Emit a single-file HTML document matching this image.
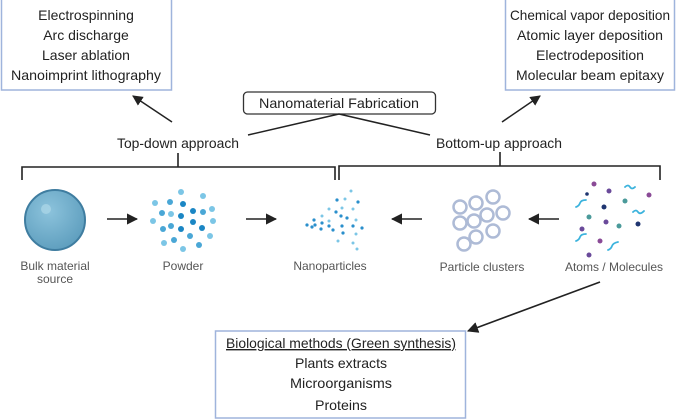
<!DOCTYPE html>
<html><head><meta charset="utf-8"><style>
html,body{margin:0;padding:0;background:#fff;}
svg{display:block;}
text{font-family:"Liberation Sans",sans-serif;}
</style></head><body>
<svg width="676" height="420" viewBox="0 0 676 420" xmlns="http://www.w3.org/2000/svg">
<defs>
<marker id="ah" viewBox="0 0 10 10" refX="9" refY="5" markerWidth="7" markerHeight="7" orient="auto-start-reverse"><path d="M0,0 L10,5 L0,10 z" fill="#222"/></marker>
<radialGradient id="sph" cx="0.4" cy="0.35" r="0.7"><stop offset="0" stop-color="#8cc3dc"/><stop offset="1" stop-color="#5d9dbd"/></radialGradient>
</defs>
<rect x="1.5" y="-1" width="170" height="91" fill="#fff" stroke="#9fb4dc" stroke-width="1.5"/>
<g font-size="14" fill="#222" text-anchor="middle">
<text x="86" y="20">Electrospinning</text>
<text x="86" y="40">Arc discharge</text>
<text x="86" y="60">Laser ablation</text>
<text x="86" y="80" textLength="150" lengthAdjust="spacingAndGlyphs">Nanoimprint lithography</text>
</g>
<rect x="505.5" y="-1" width="169" height="91" fill="#fff" stroke="#9fb4dc" stroke-width="1.5"/>
<g font-size="14" fill="#222" text-anchor="middle">
<text x="590" y="20" textLength="160" lengthAdjust="spacingAndGlyphs">Chemical vapor deposition</text>
<text x="590" y="40" textLength="146" lengthAdjust="spacingAndGlyphs">Atomic layer deposition</text>
<text x="590" y="60" textLength="108" lengthAdjust="spacingAndGlyphs">Electrodeposition</text>
<text x="590" y="80" textLength="148" lengthAdjust="spacingAndGlyphs">Molecular beam epitaxy</text>
</g>
<rect x="243.5" y="92" width="192" height="22" rx="4" fill="#fff" stroke="#333" stroke-width="1.3"/>
<text x="339" y="108" font-size="14" fill="#222" text-anchor="middle" textLength="160" lengthAdjust="spacingAndGlyphs">Nanomaterial Fabrication</text>
<line x1="339" y1="114" x2="248" y2="135" stroke="#222" stroke-width="1.5"/>
<line x1="339" y1="114" x2="430" y2="135" stroke="#222" stroke-width="1.5"/>
<text x="178" y="148" font-size="14" fill="#222" text-anchor="middle" textLength="122" lengthAdjust="spacingAndGlyphs">Top-down approach</text>
<text x="499" y="148" font-size="14" fill="#222" text-anchor="middle" textLength="126" lengthAdjust="spacingAndGlyphs">Bottom-up approach</text>
<line x1="172" y1="122" x2="133" y2="96" stroke="#222" stroke-width="1.5" marker-end="url(#ah)"/>
<line x1="502" y1="122" x2="540" y2="96" stroke="#222" stroke-width="1.5" marker-end="url(#ah)"/>
<path d="M22,180 V167 H335 V180 M178,153 V167" fill="none" stroke="#222" stroke-width="1.6"/>
<path d="M339,180 V166 H660 V180 M500,152 V166" fill="none" stroke="#222" stroke-width="1.6"/>
<circle cx="55" cy="220" r="30" fill="url(#sph)" stroke="#3f7da0" stroke-width="2"/>
<circle cx="46" cy="209" r="5" fill="#a9d5e6" opacity="0.8"/>
<g font-size="12" fill="#555" text-anchor="middle">
<text x="55" y="270">Bulk material</text>
<text x="55" y="283">source</text>
<text x="183" y="270">Powder</text>
<text x="330" y="270">Nanoparticles</text>
<text x="482" y="271">Particle clusters</text>
<text x="614" y="271">Atoms / Molecules</text>
</g>
<g stroke="#222" stroke-width="1.6" marker-end="url(#ah)">
<line x1="107" y1="219" x2="137" y2="219"/>
<line x1="246" y1="219" x2="276" y2="219"/>
<line x1="422" y1="219" x2="392" y2="219"/>
<line x1="559" y1="219" x2="529" y2="219"/>
<line x1="600" y1="282" x2="468" y2="331"/>
</g>
<g>
<circle cx="181" cy="192" r="3" fill="#7cc6e6"/><circle cx="203" cy="196" r="3" fill="#7cc6e6"/>
<circle cx="155" cy="203" r="3" fill="#7cc6e6"/><circle cx="170" cy="202" r="3" fill="#4aa7d6"/>
<circle cx="183" cy="204" r="3" fill="#1b86c4"/><circle cx="193" cy="211" r="3" fill="#1b86c4"/>
<circle cx="203" cy="212" r="3" fill="#4aa7d6"/><circle cx="212" cy="209" r="3" fill="#7cc6e6"/>
<circle cx="162" cy="213" r="3" fill="#4aa7d6"/><circle cx="171" cy="214" r="3" fill="#7cc6e6"/>
<circle cx="181" cy="216" r="3" fill="#1b86c4"/><circle cx="153" cy="221" r="3" fill="#7cc6e6"/>
<circle cx="193" cy="222" r="3" fill="#1b86c4"/><circle cx="202" cy="228" r="3" fill="#1b86c4"/>
<circle cx="213" cy="221" r="3" fill="#7cc6e6"/><circle cx="163" cy="229" r="3" fill="#4aa7d6"/>
<circle cx="171" cy="226" r="3" fill="#4aa7d6"/><circle cx="181" cy="229" r="3" fill="#1b86c4"/>
<circle cx="190" cy="236" r="3" fill="#4aa7d6"/><circle cx="210" cy="236" r="3" fill="#7cc6e6"/>
<circle cx="164" cy="243" r="3" fill="#7cc6e6"/><circle cx="174" cy="240" r="3" fill="#4aa7d6"/>
<circle cx="183" cy="249" r="3" fill="#7cc6e6"/><circle cx="199" cy="245" r="3" fill="#4aa7d6"/>
</g>
<g fill="#2a8fcc">
<circle cx="351" cy="191" r="1.5" fill="#7cc6e6"/><circle cx="337" cy="200" r="1.6"/><circle cx="345" cy="199" r="1.5" fill="#7cc6e6"/>
<circle cx="358" cy="202" r="1.6"/><circle cx="329" cy="209" r="1.5" fill="#7cc6e6"/><circle cx="342" cy="208" r="1.5" fill="#7cc6e6"/>
<circle cx="353" cy="209" r="1.5" fill="#7cc6e6"/><circle cx="322" cy="216" r="1.5" fill="#7cc6e6"/><circle cx="336" cy="212" r="1.6"/>
<circle cx="341" cy="216" r="1.6"/><circle cx="347" cy="218" r="1.6"/><circle cx="356" cy="220" r="1.5" fill="#7cc6e6"/>
<circle cx="314" cy="220" r="1.6"/><circle cx="329" cy="221" r="1.5" fill="#7cc6e6"/><circle cx="307" cy="225" r="1.6"/>
<circle cx="312" cy="227" r="1.6"/><circle cx="315" cy="225" r="1.6"/><circle cx="322" cy="223" r="1.6"/>
<circle cx="329" cy="226" r="1.6"/><circle cx="342" cy="226" r="1.6"/><circle cx="353" cy="226" r="1.6"/>
<circle cx="362" cy="228" r="1.6"/><circle cx="321" cy="229" r="1.6"/><circle cx="333" cy="230" r="1.6"/>
<circle cx="343" cy="233" r="1.6"/><circle cx="356" cy="234" r="1.5" fill="#7cc6e6"/><circle cx="338" cy="241" r="1.5" fill="#7cc6e6"/>
<circle cx="353" cy="243" r="1.5" fill="#7cc6e6"/><circle cx="357" cy="249" r="1.5" fill="#7cc6e6"/>
</g>
<g fill="none" stroke="#aebbd6" stroke-width="2.5">
<circle cx="460" cy="207" r="6.5"/><circle cx="476" cy="203" r="6.5"/><circle cx="493" cy="197" r="6.5"/>
<circle cx="503" cy="213" r="6.5"/><circle cx="487" cy="215" r="6.5"/><circle cx="474" cy="221" r="6.5"/>
<circle cx="460" cy="223" r="6.5"/><circle cx="493" cy="231" r="6.5"/><circle cx="476" cy="237" r="6.5"/>
<circle cx="464" cy="244" r="6.5"/>
</g>
<g>
<circle cx="594" cy="184" r="2.5" fill="#8a4a96"/><circle cx="609" cy="191" r="2.5" fill="#6a4a9a"/>
<circle cx="587" cy="194" r="1.8" fill="#1f3570"/><circle cx="649" cy="195" r="2.5" fill="#8a4a96"/>
<circle cx="625" cy="201" r="2.5" fill="#4a9a9a"/><circle cx="604" cy="207" r="2.5" fill="#1f3570"/>
<circle cx="589" cy="217" r="2.5" fill="#4a9a9a"/><circle cx="606" cy="222" r="2.5" fill="#6a4a9a"/>
<circle cx="619" cy="226" r="2.5" fill="#4a9a9a"/><circle cx="638" cy="224" r="2.5" fill="#1f3570"/>
<circle cx="582" cy="229" r="2.5" fill="#6a4a9a"/><circle cx="600" cy="241" r="2.5" fill="#8a4a96"/>
<circle cx="589" cy="255" r="2.5" fill="#6a4a9a"/>
</g>
<g fill="none" stroke="#3cb3dd" stroke-width="1.8" stroke-linecap="round">
<path d="M625,187 q3,-3 5,0 t5,0"/>
<path d="M576,207 q3,-1 4,-4 t6,-3"/>
<path d="M633,212 q3,-3 5,0 t6,-1"/>
<path d="M576,241 q3,-1 4,-4 t6,-3"/>
<path d="M608,250 q3,-1 4,-4 t6,-4"/>
</g>
<rect x="215.5" y="331" width="250" height="87" fill="#fff" stroke="#9fb4dc" stroke-width="1.5"/>
<g font-size="14" fill="#222" text-anchor="middle">
<text x="341" y="348" text-decoration="underline" textLength="230" lengthAdjust="spacingAndGlyphs">Biological methods (Green synthesis)</text>
<text x="341" y="368" textLength="92" lengthAdjust="spacingAndGlyphs">Plants extracts</text>
<text x="341" y="388" textLength="102" lengthAdjust="spacingAndGlyphs">Microorganisms</text>
<text x="341" y="410" textLength="52" lengthAdjust="spacingAndGlyphs">Proteins</text>
</g>
</svg>
</body></html>
